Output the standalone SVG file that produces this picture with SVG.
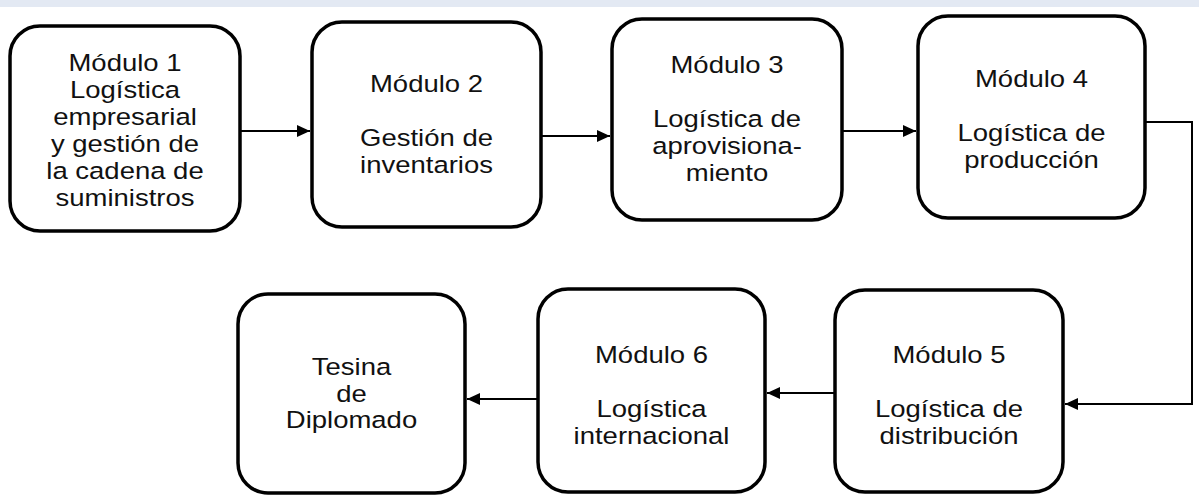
<svg xmlns="http://www.w3.org/2000/svg" width="1199" height="497" viewBox="0 0 1199 497">
<style>
.box{fill:#fff;stroke:#000;stroke-width:3.5}
.t{font-family:"Liberation Sans",Arial,sans-serif;font-size:23.5px;fill:#111;text-anchor:middle}
.c{fill:none;stroke:#000;stroke-width:2}
</style>
<defs>
<marker id="ah" markerUnits="userSpaceOnUse" markerWidth="14" markerHeight="12" refX="13" refY="6" orient="auto">
<path d="M0,0 L13,6 L0,12 Z" fill="#000"/>
</marker>
</defs>
<rect x="0" y="0" width="1199" height="497" fill="#fff"/>
<rect x="0" y="0" width="1199" height="7" fill="#e3e9f3"/>
<g id="connectors">
<line class="c" x1="240" y1="131" x2="310" y2="131" marker-end="url(#ah)"/>
<line class="c" x1="541" y1="136" x2="610" y2="136" marker-end="url(#ah)"/>
<line class="c" x1="842" y1="131" x2="916" y2="131" marker-end="url(#ah)"/>
<polyline class="c" points="1145,122 1192,122 1192,404 1065,404" marker-end="url(#ah)"/>
<line class="c" x1="835" y1="393" x2="767" y2="393" marker-end="url(#ah)"/>
<line class="c" x1="538" y1="399" x2="467" y2="399" marker-end="url(#ah)"/>
</g>
<g id="m1">
<rect class="box" x="10" y="26" width="230" height="205" rx="30"/>
<g transform="translate(125 0) scale(1.17 1)">
<text class="t" x="0" y="71">Módulo 1</text>
<text class="t" x="0" y="98">Logística</text>
<text class="t" x="0" y="125">empresarial</text>
<text class="t" x="0" y="152">y gestión de</text>
<text class="t" x="0" y="179">la cadena de</text>
<text class="t" x="0" y="206">suministros</text>
</g>
</g>
<g id="m2">
<rect class="box" x="312" y="22" width="229" height="205" rx="30"/>
<g transform="translate(426.5 0) scale(1.17 1)">
<text class="t" x="0" y="92">Módulo 2</text>
<text class="t" x="0" y="146">Gestión de</text>
<text class="t" x="0" y="173">inventarios</text>
</g>
</g>
<g id="m3">
<rect class="box" x="612" y="19" width="230" height="201" rx="30"/>
<g transform="translate(727 0) scale(1.17 1)">
<text class="t" x="0" y="73">Módulo 3</text>
<text class="t" x="0" y="127">Logística de</text>
<text class="t" x="0" y="154">aprovisiona-</text>
<text class="t" x="0" y="181">miento</text>
</g>
</g>
<g id="m4">
<rect class="box" x="918" y="16" width="227" height="202" rx="30"/>
<g transform="translate(1031.5 0) scale(1.17 1)">
<text class="t" x="0" y="87">Módulo 4</text>
<text class="t" x="0" y="141">Logística de</text>
<text class="t" x="0" y="168">producción</text>
</g>
</g>
<g id="m5">
<rect class="box" x="835" y="290" width="228" height="202" rx="30"/>
<g transform="translate(949 0) scale(1.17 1)">
<text class="t" x="0" y="363">Módulo 5</text>
<text class="t" x="0" y="417">Logística de</text>
<text class="t" x="0" y="444">distribución</text>
</g>
</g>
<g id="m6">
<rect class="box" x="538" y="289" width="227" height="203" rx="30"/>
<g transform="translate(651.5 0) scale(1.17 1)">
<text class="t" x="0" y="363">Módulo 6</text>
<text class="t" x="0" y="417">Logística</text>
<text class="t" x="0" y="444">internacional</text>
</g>
</g>
<g id="tesina">
<rect class="box" x="238" y="294" width="227" height="199" rx="30"/>
<g transform="translate(351.5 0) scale(1.17 1)">
<text class="t" x="0" y="375">Tesina</text>
<text class="t" x="0" y="402">de</text>
<text class="t" x="0" y="428">Diplomado</text>
</g>
</g>
</svg>
